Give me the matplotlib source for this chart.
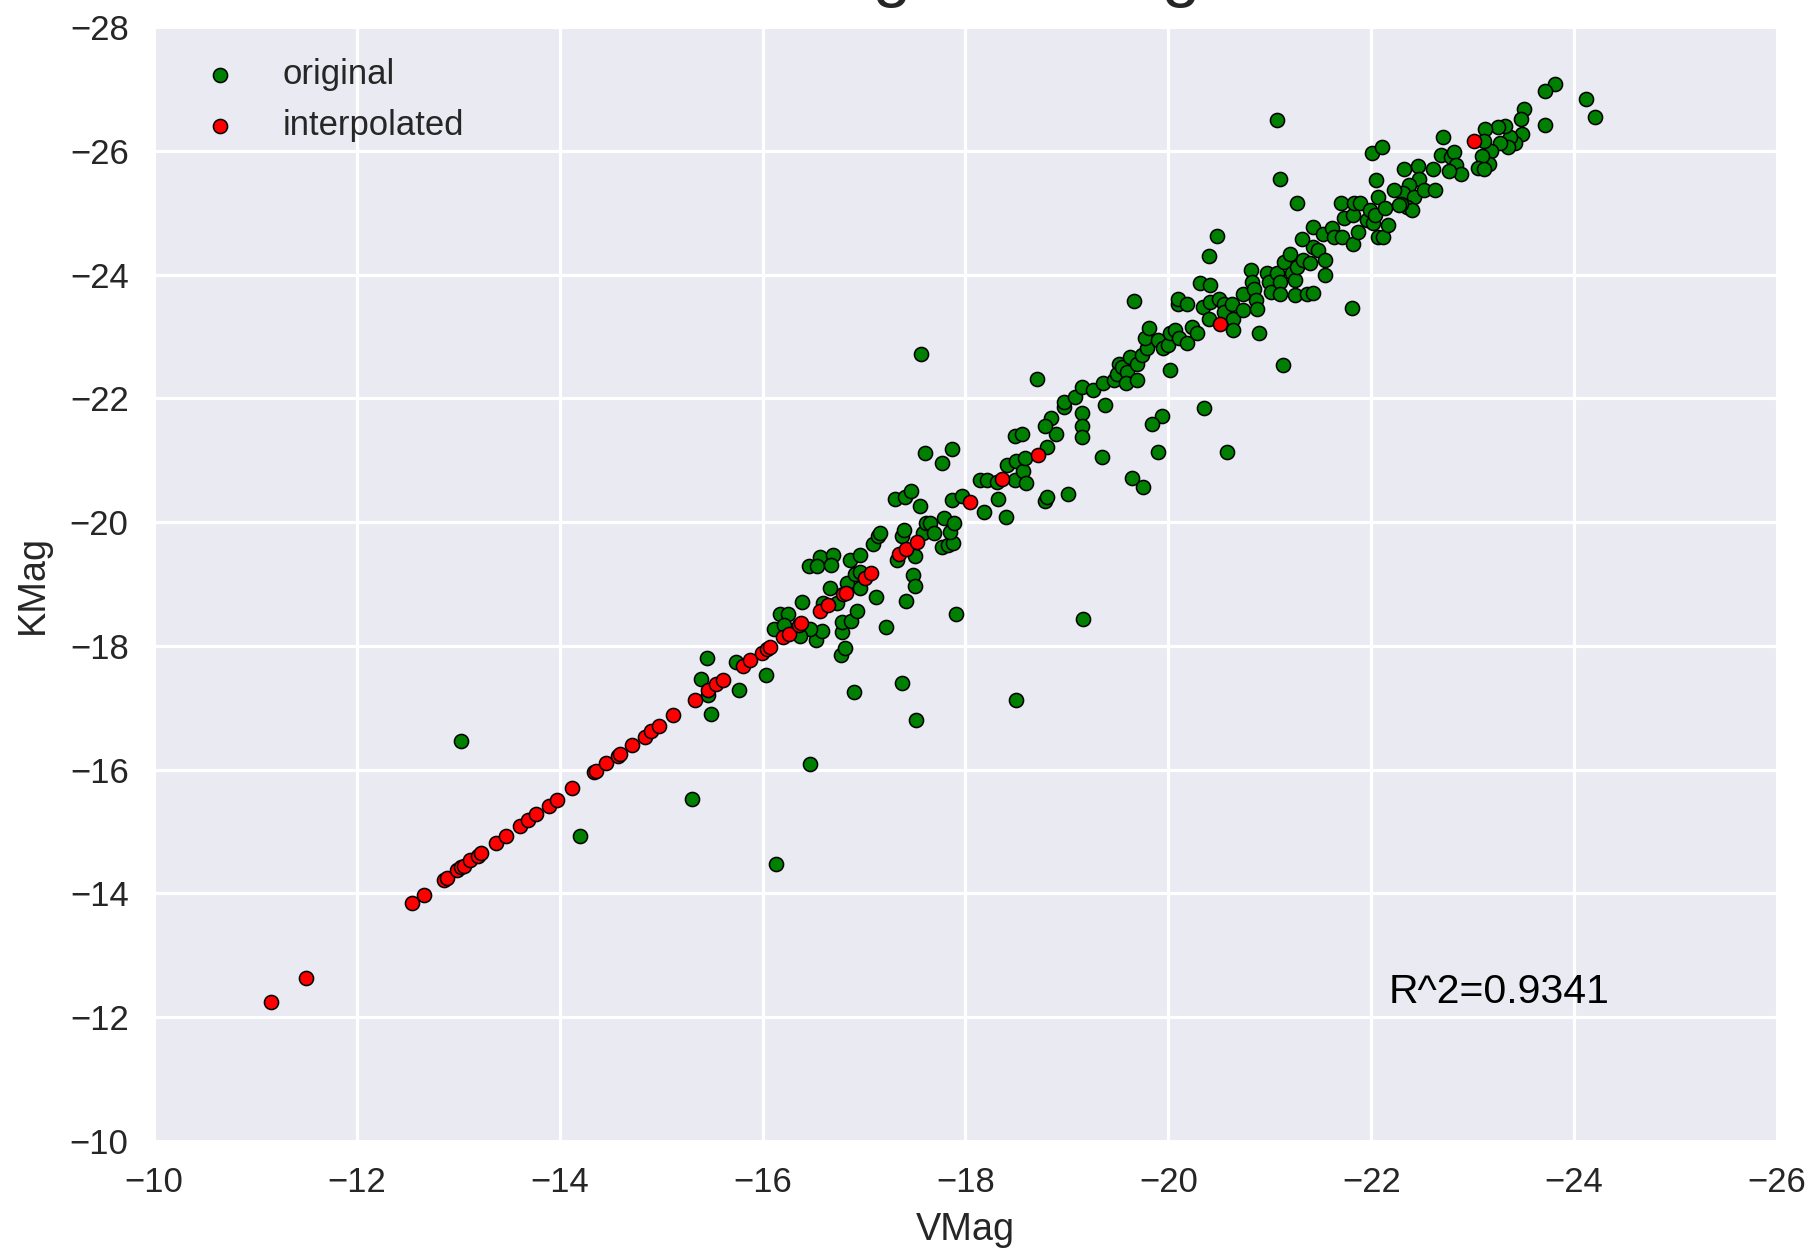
import numpy as np
import matplotlib
matplotlib.use('Agg')
import matplotlib.pyplot as plt


# V and K absolute magnitudes, measured sample
vmag_orig = [
    -23.81, -23.71, -24.12, -24.21, -23.51, -23.48, -23.71, -23.49, -23.42, -23.37,
    -23.32, -23.25, -23.35, -23.27, -23.18, -23.16, -23.09, -23.05, -23.11, -23.12,
    -23.11, -22.71, -22.69, -22.79, -22.82, -22.84, -22.88, -22.77, -22.61, -22.46,
    -22.47, -22.32, -22.37, -22.31, -22.42, -22.52, -22.63, -22.35, -22.40, -22.29,
    -21.07, -21.10, -21.27, -20.48, -20.40, -19.66, -21.81, -21.13, -20.35, -20.58,
    -20.02, -19.94, -19.84, -19.90, -19.35, -19.64, -19.75, -19.01,
    -18.84, -18.89, -18.97, -18.97, -19.08, -19.15, -19.15, -19.15, -19.15, -19.26,
    -19.38, -19.36, -19.46, -19.51, -19.49, -19.54, -19.59, -19.58, -19.69, -19.62,
    -19.69, -19.74, -19.79, -19.77, -19.81, -19.90, -19.95, -20.00, -20.02, -20.07,
    -20.09, -20.09, -20.18, -20.10, -20.18, -20.23, -20.28, -20.31, -20.41, -20.34,
    -20.40, -20.41, -20.50, -20.55, -20.55, -20.63, -20.64, -20.64, -20.74, -20.74,
    -20.81, -20.82, -20.84, -20.86, -20.87, -20.89, -20.97, -20.99, -21.01, -21.07,
    -21.10, -21.10, -21.14, -21.20, -21.22, -21.25, -21.25, -21.27, -21.33, -21.37,
    -21.43, -21.40, -21.43, -21.47, -21.43, -21.32, -21.52, -21.54, -21.54, -21.61,
    -21.63, -21.71, -21.73, -21.70, -21.82, -21.83, -21.82, -21.87, -21.89, -21.96,
    -21.99, -22.02, -22.07, -22.12, -22.04, -22.07, -22.14, -22.16, -22.05, -22.01,
    -22.11, -22.22, -22.27,
    -15.30, -16.47, -15.49, -15.77, -16.03, -15.45, -15.39, -15.46, -15.74, -16.90,
    -17.37, -17.51, -18.50, -19.16, -17.91, -17.22, -16.77, -16.81, -16.78, -16.78,
    -16.87, -16.93, -16.53, -16.59, -16.47, -16.37, -16.11, -16.17, -16.25, -16.21,
    -16.39, -16.60, -16.66, -16.73, -16.83, -16.96, -16.91, -16.96, -17.12, -17.41,
    -17.48, -17.50, -17.32, -17.50, -17.37, -17.39, -17.09, -17.14, -17.16, -16.46,
    -16.57, -16.54, -16.69, -16.67, -16.86, -16.96, -17.58, -17.61, -17.65, -17.69,
    -17.79, -17.77, -17.83, -17.88, -17.85, -17.89, -17.55, -17.31, -17.40, -17.46,
    -17.87, -17.97, -18.18, -18.32, -18.40, -18.14, -18.21, -18.31, -18.41, -18.50,
    -18.49, -18.57, -18.60, -18.59, -18.80, -18.78, -18.80, -18.49, -18.56, -18.78,
    -17.60, -17.87, -17.77,
    -13.03, -14.20, -16.13, -17.56, -18.70,
]
kmag_orig = [
    -27.08, -26.96, -26.84, -26.54, -26.68, -26.52, -26.41, -26.28, -26.13, -26.23,
    -26.40, -26.39, -26.06, -26.13, -26.00, -25.79, -25.92, -25.73, -25.71, -26.36,
    -26.16, -26.23, -25.94, -25.90, -25.98, -25.77, -25.62, -25.68, -25.71, -25.76,
    -25.55, -25.70, -25.44, -25.32, -25.26, -25.36, -25.36, -25.09, -25.04, -25.14,
    -26.50, -25.54, -25.16, -24.62, -24.30, -23.58, -23.46, -22.54, -21.84, -21.14,
    -22.46, -21.72, -21.59, -21.14, -21.06, -20.72, -20.56, -20.46,
    -21.68, -21.43, -21.86, -21.94, -22.03, -22.19, -21.76, -21.55, -21.38, -22.13,
    -21.90, -22.25, -22.30, -22.56, -22.40, -22.51, -22.43, -22.25, -22.30, -22.67,
    -22.56, -22.70, -22.81, -22.98, -23.13, -22.94, -22.81, -22.86, -23.06, -23.10,
    -23.52, -23.61, -23.53, -22.97, -22.89, -23.16, -23.05, -23.87, -23.83, -23.47,
    -23.28, -23.56, -23.61, -23.53, -23.40, -23.53, -23.29, -23.11, -23.43, -23.69,
    -24.07, -23.88, -23.77, -23.59, -23.45, -23.06, -24.02, -23.88, -23.72, -24.02,
    -23.88, -23.69, -24.21, -24.33, -24.02, -23.91, -23.67, -24.13, -24.23, -23.68,
    -23.70, -24.18, -24.45, -24.40, -24.77, -24.57, -24.66, -24.23, -23.99, -24.75,
    -24.61, -24.61, -24.91, -25.16, -24.96, -25.15, -24.50, -24.69, -25.15, -24.88,
    -25.04, -24.83, -24.61, -24.61, -24.96, -25.26, -25.07, -24.80, -25.53, -25.96,
    -26.07, -25.36, -25.13,
    -15.53, -16.09, -16.90, -17.29, -17.53, -17.81, -17.47, -17.20, -17.74, -17.25,
    -17.40, -16.81, -17.12, -18.44, -18.52, -18.30, -17.86, -17.97, -18.22, -18.38,
    -18.40, -18.56, -18.10, -18.24, -18.27, -18.16, -18.28, -18.51, -18.52, -18.34,
    -18.71, -18.69, -18.94, -18.70, -19.01, -18.94, -19.16, -19.19, -18.79, -18.72,
    -19.15, -18.96, -19.39, -19.46, -19.78, -19.87, -19.65, -19.77, -19.83, -19.29,
    -19.43, -19.29, -19.47, -19.31, -19.39, -19.47, -19.83, -19.98, -19.99, -19.83,
    -20.07, -19.60, -19.63, -19.66, -19.84, -19.99, -20.26, -20.37, -20.41, -20.50,
    -20.36, -20.42, -20.16, -20.38, -20.09, -20.68, -20.68, -20.65, -20.92, -20.99,
    -20.68, -20.82, -20.64, -21.04, -21.22, -20.34, -20.41, -21.39, -21.42, -21.56,
    -21.12, -21.18, -20.96,
    -16.46, -14.93, -14.47, -22.71, -22.32,
]

# K magnitudes filled in from the V-K relation
vmag_interp = [
    -11.15, -11.50,
    -12.54, -12.66, -12.86, -12.89, -12.99, -13.03, -13.06, -13.12, -13.19, -13.22,
    -13.37, -13.47, -13.61, -13.69, -13.77, -13.89, -13.97, -14.12, -14.34, -14.36,
    -14.46, -14.57, -14.59, -14.71, -14.84, -14.90, -14.98, -15.12, -15.33, -15.46,
    -15.54, -15.61, -15.81, -15.88, -15.99,
    -16.04, -16.07, -16.20, -16.26, -16.36, -16.38, -16.57, -16.64, -16.79, -16.82,
    -17.01, -17.07, -17.34, -17.41, -17.52, -18.04, -18.36, -18.71,
    -20.51, -23.01,
]
kmag_interp = [
    -12.24, -12.63,
    -13.85, -13.98, -14.22, -14.25, -14.38, -14.42, -14.45, -14.54, -14.61, -14.66,
    -14.81, -14.93, -15.09, -15.19, -15.29, -15.42, -15.51, -15.71, -15.96, -15.98,
    -16.11, -16.22, -16.26, -16.40, -16.53, -16.62, -16.70, -16.88, -17.12, -17.28,
    -17.38, -17.45, -17.68, -17.77, -17.88,
    -17.95, -17.99, -18.15, -18.20, -18.33, -18.37, -18.57, -18.66, -18.84, -18.86,
    -19.09, -19.18, -19.48, -19.56, -19.68, -20.32, -20.70, -21.08,
    -23.20, -26.16,
]

r_squared = 0.9341

plt.rcParams['font.family'] = ['Liberation Sans', 'DejaVu Sans']
plt.rcParams['text.color'] = '.15'
plt.rcParams['axes.labelcolor'] = '.15'
plt.rcParams['xtick.color'] = '.15'
plt.rcParams['ytick.color'] = '.15'

fig = plt.figure(figsize=(1815 / 227, 1253 / 227), dpi=227)
ax = fig.add_axes([0.0848, 0.0894, 0.8943, 0.8890])
ax.set_facecolor('#EAEAF2')
for side in ax.spines.values():
    side.set_visible(False)
ax.grid(True, color='white', linewidth=1.0)
ax.set_axisbelow(True)

ax.scatter(vmag_orig, kmag_orig, s=20, c='g', edgecolors='k', linewidths=0.5,
           label='original', zorder=3)
ax.scatter(vmag_interp, kmag_interp, s=20, c='r', edgecolors='k', linewidths=0.5,
           label='interpolated', zorder=4)

# brighter magnitudes are more negative, so both axes run backwards
ax.set_xlim(-10, -26)
ax.set_ylim(-10, -28)
ax.set_xticks(np.arange(-10, -27, -2))
ax.set_yticks(np.arange(-10, -29, -2))
ax.tick_params(length=0, labelsize=11, pad=8)

ax.set_xlabel('VMag', fontsize=12, labelpad=4)
ax.set_ylabel('KMag', fontsize=12, labelpad=6)
ax.set_title('KMag vs VMag', fontsize=22, pad=10.5)

ax.text(-22.17, -12.23, 'R^2=%.4f' % r_squared, fontsize=13, color='k')

ax.legend(loc='upper left', frameon=False, scatterpoints=1, fontsize=11)

fig.savefig('out.png', dpi=227)
